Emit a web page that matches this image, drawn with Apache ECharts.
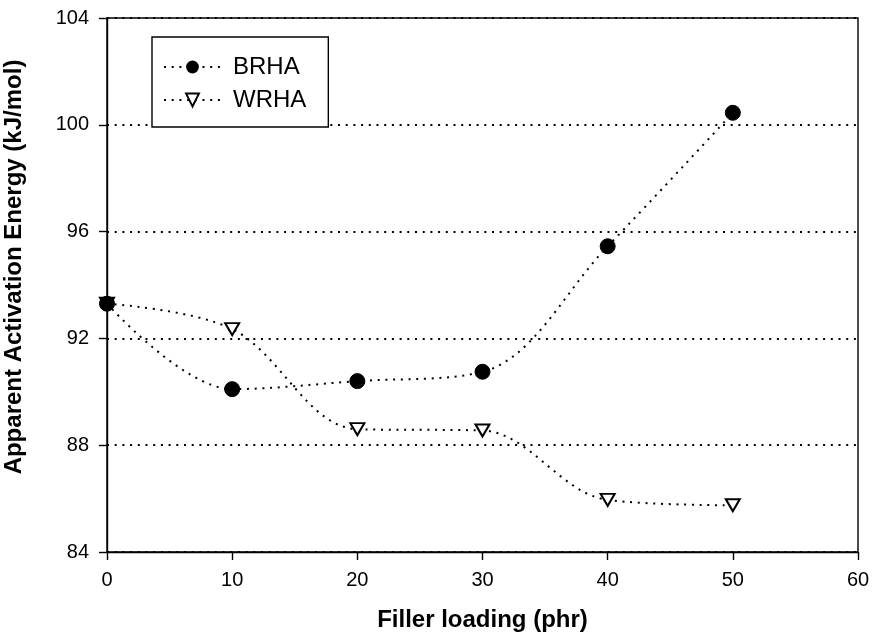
<!DOCTYPE html>
<html>
<head>
<meta charset="utf-8">
<script src="https://cdn.jsdelivr.net/npm/echarts@6/dist/echarts.min.js"></script>
<style>html,body{margin:0;padding:0;background:#fff}#c{width:873px;height:642px}</style>
</head>
<body>
<div id="c"></div>
<script>
var fillerLoading = [0, 10, 20, 30, 40, 50];
var brha = [93.3, 90.1, 90.4, 90.75, 95.45, 100.45];
var wrha = [93.3, 92.35, 88.6, 88.55, 85.95, 85.75];
var yTicks = [84, 88, 92, 96, 100, 104];
var xTicks = [0, 10, 20, 30, 40, 50, 60];

function pairs(xs, ys) { return xs.map(function (x, i) { return [x, ys[i]]; }); }

var font = 'Liberation Sans, Arial, sans-serif';
var dots = [2, 5.7];
var chart = echarts.init(document.getElementById('c'));
chart.setOption({
  backgroundColor: '#fff',
  animation: false,
  grid: { left: 107, right: 15, top: 18, bottom: 90, containLabel: false, outerBoundsMode: 'none', show: true, borderColor: '#000', borderWidth: 1.4, backgroundColor: 'transparent' },
  legend: {
    left: 152, top: 37, orient: 'vertical',
    backgroundColor: '#fff', borderColor: '#000', borderWidth: 1.4,
    padding: [18, 22, 15, 11], itemGap: 9, itemWidth: 57, itemHeight: 16,
    textStyle: { fontFamily: font, fontSize: 24, color: '#000', padding: [0, 0, 0, 7] },
    data: ['BRHA', 'WRHA']
  },
  xAxis: {
    type: 'value', min: xTicks[0], max: xTicks[xTicks.length - 1], interval: 10,
    name: 'Filler loading (phr)', nameLocation: 'middle', nameGap: 56,
    nameTextStyle: { fontFamily: font, fontSize: 24, fontWeight: 'bold', color: '#000' },
    axisLine: { lineStyle: { color: '#000', width: 1.4 } },
    axisTick: { show: true, inside: false, length: 8, lineStyle: { color: '#000', width: 1.4 } },
    axisLabel: { fontFamily: font, fontSize: 20, color: '#000', margin: 18 },
    splitLine: { show: false }
  },
  yAxis: {
    type: 'value', min: yTicks[0], max: yTicks[yTicks.length - 1], interval: 4,
    name: 'Apparent Activation Energy (kJ/mol)', nameLocation: 'middle', nameGap: 81,
    nameTextStyle: { fontFamily: font, fontSize: 24, fontWeight: 'bold', color: '#000', padding: [0, 0, 0, 36] },
    axisLine: { show: true, lineStyle: { color: '#000', width: 1.4 } },
    axisTick: { show: true, inside: false, length: 8, lineStyle: { color: '#000', width: 1.4 } },
    axisLabel: { fontFamily: font, fontSize: 20, color: '#000', margin: 18 },
    splitLine: { show: true, lineStyle: { color: '#000', width: 2, type: dots } }
  },
  series: [
    {
      name: 'BRHA', type: 'line', data: pairs(fillerLoading, brha), smooth: 0.35,
      symbol: 'circle', symbolSize: 15,
      itemStyle: { color: '#000', borderColor: '#000' },
      lineStyle: { color: '#000', width: 2, type: dots },
      z: 3
    },
    {
      name: 'WRHA', type: 'line', data: pairs(fillerLoading, wrha), smooth: 0.35,
      symbol: 'triangle', symbolSize: [14, 12], symbolRotate: 180,
      itemStyle: { color: '#fff', borderColor: '#000', borderWidth: 2 },
      lineStyle: { color: '#000', width: 2, type: dots },
      z: 2
    }
  ]
});
</script>
</body>
</html>
